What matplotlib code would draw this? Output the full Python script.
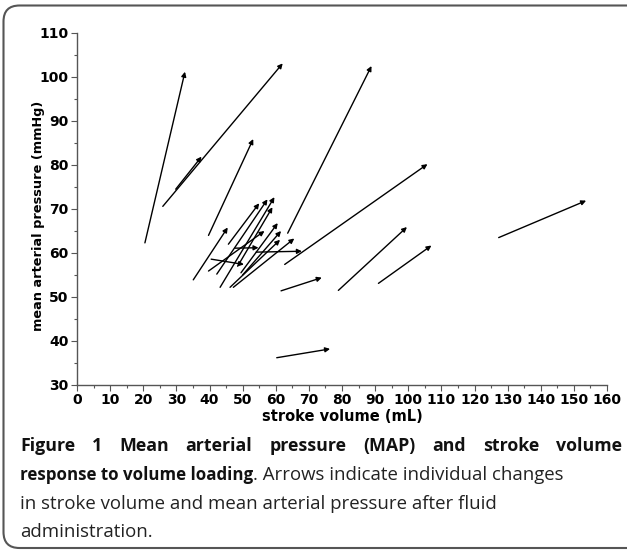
import matplotlib
matplotlib.use('Agg')
import matplotlib.pyplot as plt
from matplotlib.path import Path
from matplotlib.patches import PathPatch
from matplotlib.ticker import MultipleLocator

# stroke volume (mL) and MAP (mmHg) before -> after fluid loading
sv_before = [20.5, 25.9, 29.8, 39.7, 63.6, 62.7, 127.3, 78.9, 91.0, 61.6, 60.3,
             35.1, 45.7, 42.2, 43.2, 48.5, 39.7, 49.5, 46.2, 47.2, 50.0, 47.7, 54.1, 40.5]
map_before = [62.3, 70.6, 74.5, 64.0, 64.5, 57.4, 63.5, 51.5, 53.1, 51.4, 36.2,
              53.9, 62.0, 55.2, 52.2, 57.0, 55.9, 55.5, 52.2, 52.2, 55.0, 61.1, 60.2, 58.6]
sv_after = [32.6, 62.1, 37.6, 53.2, 88.9, 105.8, 153.7, 99.6, 107.0, 73.9, 76.4,
            45.5, 55.0, 57.5, 59.6, 59.0, 56.6, 60.6, 61.3, 65.6, 61.6, 54.8, 67.9, 50.4]
map_after = [101.2, 103.1, 81.9, 85.9, 102.5, 80.2, 71.9, 65.9, 61.7, 54.4, 38.2,
             65.8, 71.3, 72.2, 72.7, 70.4, 65.0, 66.8, 63.0, 63.3, 65.0, 61.2, 60.4, 57.4]

W, H = 627, 555
fig = plt.figure(figsize=(W / 100, H / 100), dpi=100)
ax = fig.add_axes([77 / W, 1 - 385 / H, 530 / W, 352 / H])

for x0, y0, x1, y1 in zip(sv_before, map_before, sv_after, map_after):
    ax.annotate('', xy=(x1, y1), xytext=(x0, y0),
                arrowprops=dict(arrowstyle='-|>', color='black', lw=1.0,
                                mutation_scale=7, shrinkA=0, shrinkB=0))

ax.set_xlim(0, 160)
ax.set_ylim(30, 110)
ax.xaxis.set_major_locator(MultipleLocator(10))
ax.xaxis.set_minor_locator(MultipleLocator(5))
ax.yaxis.set_major_locator(MultipleLocator(10))
ax.yaxis.set_minor_locator(MultipleLocator(5))
for s in ['top', 'right']:
    ax.spines[s].set_visible(False)
for s in ['left', 'bottom']:
    ax.spines[s].set_color('#555555')
    ax.spines[s].set_linewidth(1.0)
ax.tick_params(which='major', length=4, width=0.8, color='#555555', labelsize=10, pad=2)
ax.tick_params(which='minor', length=2.5, width=0.8, color='#555555')
for lab in ax.get_xticklabels() + ax.get_yticklabels():
    lab.set_fontweight('bold')
ax.set_xlabel('stroke volume (mL)', fontsize=10.5, fontweight='bold', labelpad=1)
ax.set_ylabel('mean arterial pressure (mmHg)', fontsize=9.3, fontweight='bold', va='center')
ax.yaxis.set_label_coords(-38 / 530, 0.48)

# rounded frame, open on the right side
r = 16
xl, yt, yb, xr = 3.5, 5.5, 548, 640
pts = [(xr, yt), (xl + r, yt), (xl, yt), (xl, yt + r), (xl, yb - r), (xl, yb), (xl + r, yb), (xr, yb)]
codes = [Path.MOVETO, Path.LINETO, Path.CURVE3, Path.CURVE3, Path.LINETO,
         Path.CURVE3, Path.CURVE3, Path.LINETO]
pts = [(x / W, 1 - y / H) for x, y in pts]
fig.patches.append(PathPatch(Path(pts, codes), transform=fig.transFigure, fill=False,
                             edgecolor='#555555', lw=1.5, clip_on=False))

# caption
renderer = fig.canvas.get_renderer()
bold1 = dict(family='Open Sans', fontsize=12.8, fontweight='bold', color='#111111')
bold2 = dict(family='Open Sans', fontsize=12.2, fontweight='bold', color='#111111')
reg = dict(family='Open Sans', fontsize=13.4, color='#222222')


def width_px(s, props):
    t = fig.text(0, 0, s, **props)
    w = t.get_window_extent(renderer).width
    t.remove()
    return w


x_left, x_right = 20, 622
words = 'Figure 1 Mean arterial pressure (MAP) and stroke volume'.split()
widths = [width_px(w, bold1) for w in words]
gap = (x_right - x_left - sum(widths)) / (len(words) - 1)
x = x_left
for w, wd in zip(words, widths):
    fig.text(x / W, 1 - 451 / H, w, va='baseline', **bold1)
    x += wd + gap

t = fig.text(x_left / W, 1 - 480 / H, 'response to volume loading', va='baseline', **bold2)
bb = t.get_window_extent(renderer)
fig.text(bb.x1 / W, 1 - 480 / H, '. Arrows indicate individual changes', va='baseline', **reg)
fig.text(x_left / W, 1 - 509 / H, 'in stroke volume and mean arterial pressure after fluid',
         va='baseline', **reg)
fig.text(x_left / W, 1 - 537 / H, 'administration.', va='baseline', **reg)

fig.savefig('out.png', dpi=100)
